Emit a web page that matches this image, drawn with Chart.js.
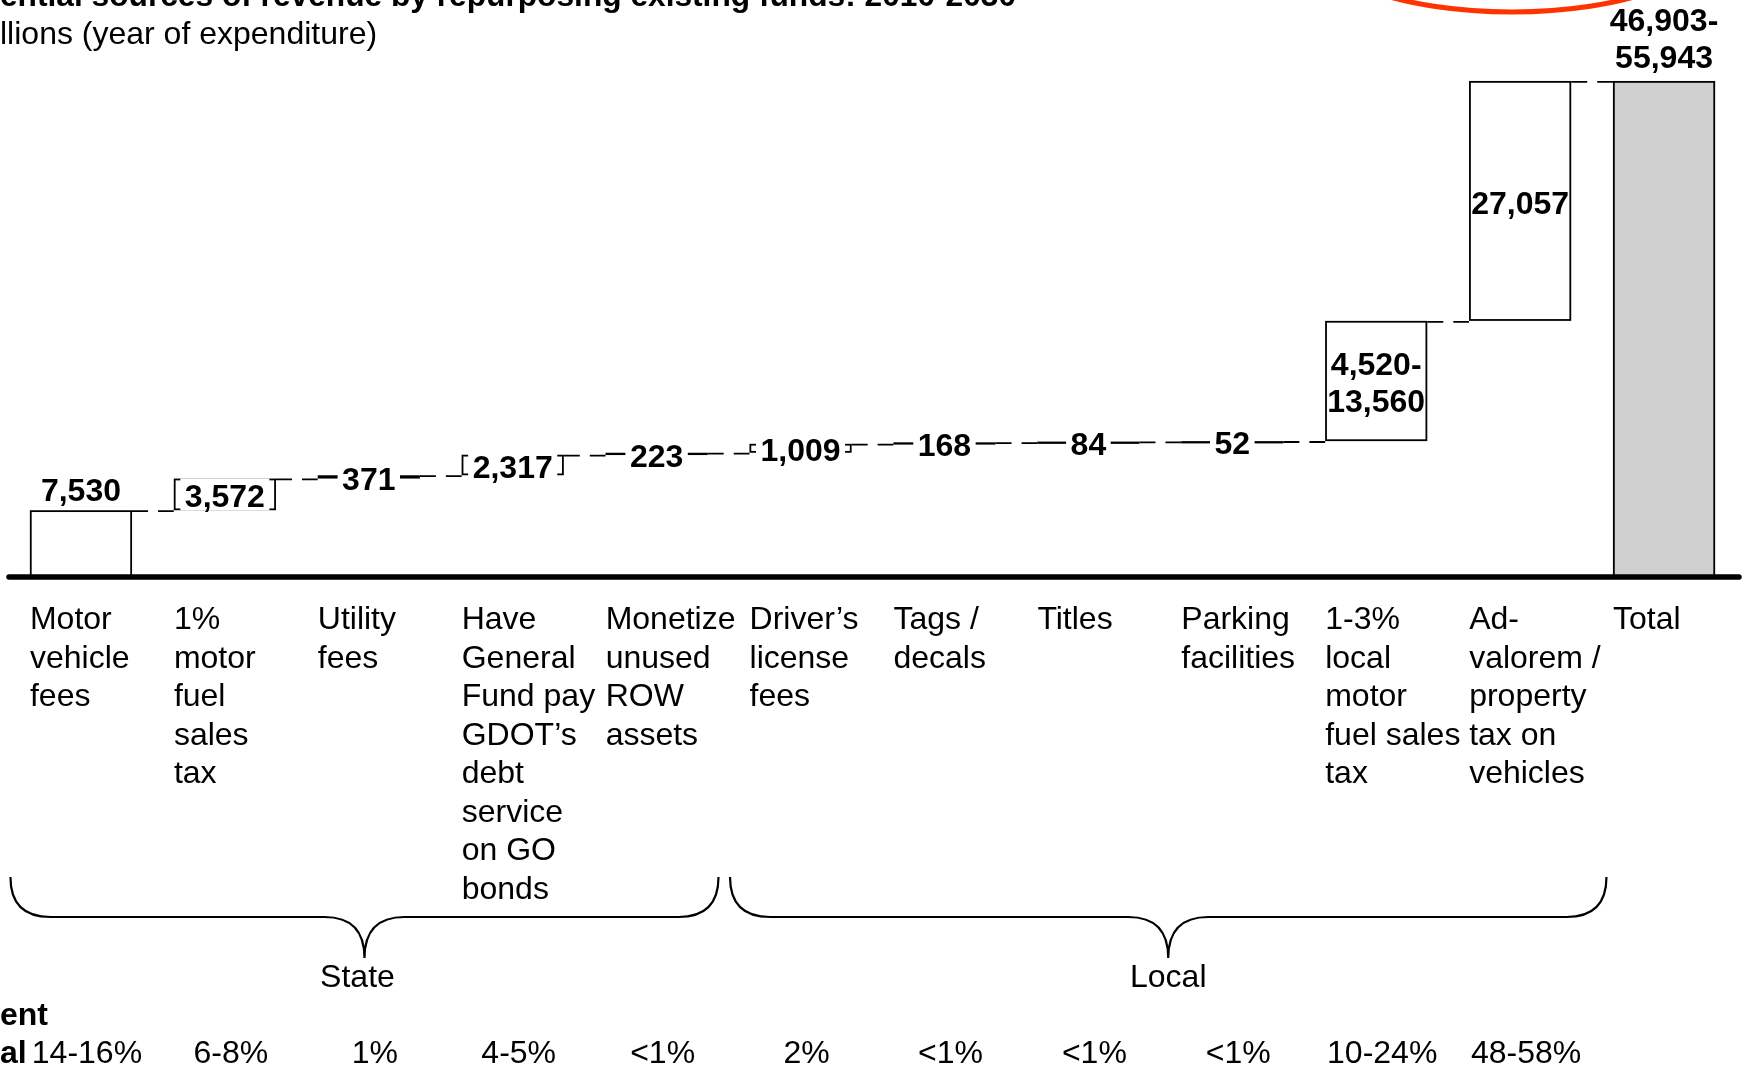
<!DOCTYPE html>
<html>
<head>
<meta charset="utf-8">
<script src="https://cdn.jsdelivr.net/npm/chart.js@4.4.1/dist/chart.umd.min.js"></script>
<style>
  html, body { margin: 0; padding: 0; background: #fff; }
  canvas { display: block; }
</style>
</head>
<body>
<canvas id="chart" width="1746" height="1068"></canvas>
<script>
// --- Data ---
const categories = [
  ['Motor', 'vehicle', 'fees'],
  ['1%', 'motor', 'fuel', 'sales', 'tax'],
  ['Utility', 'fees'],
  ['Have', 'General', 'Fund pay', 'GDOT\u2019s', 'debt', 'service', 'on GO', 'bonds'],
  ['Monetize', 'unused', 'ROW', 'assets'],
  ['Driver\u2019s', 'license', 'fees'],
  ['Tags /', 'decals'],
  ['Titles'],
  ['Parking', 'facilities'],
  ['1-3%', 'local', 'motor', 'fuel sales', 'tax'],
  ['Ad-', 'valorem /', 'property', 'tax on', 'vehicles'],
  ['Total']
];
// $ millions; low and high ends of each estimate (last entry is the total)
const lowValues  = [7530, 3572, 371, 2317, 223, 1009, 168, 84, 52, 4520, 27057, 46903];
const highValues = [7530, 3572, 371, 2317, 223, 1009, 168, 84, 52, 13560, 27057, 55943];
const shareLabels = ['14-16%', '6-8%', '1%', '4-5%', '<1%', '2%', '<1%', '<1%', '<1%', '10-24%', '48-58%'];
const groupLabels = ['State', 'Local'];
const groupFrom = [-0.49, 4.51];
const groupTo = [4.43, 10.6];

const FONT = '"Liberation Sans", Arial, Helvetica, sans-serif';

// --- Build floating bars for the waterfall ---
const lastIdx = highValues.length - 1;
const barData = [];
const ends = [];
let running = 0;
highValues.forEach((v, i) => {
  if (i === lastIdx) {
    barData.push([0, v]);
    ends.push(v);
  } else {
    barData.push([running, running + v]);
    running += v;
    ends.push(running);
  }
});

const fmt = n => n.toLocaleString('en-US');
function valueLines(i) {
  if (lowValues[i] === highValues[i]) return [fmt(highValues[i])];
  return [fmt(lowValues[i]) + '-', fmt(highValues[i])];
}

// --- Plugin: connectors, value labels, axis line, braces, notes ---
const waterfallDecor = {
  id: 'waterfallDecor',
  afterDatasetsDraw(chart) {
    const ctx = chart.ctx;
    const meta = chart.getDatasetMeta(0);
    const y = chart.scales.y;
    ctx.save();
    ctx.strokeStyle = '#000';
    ctx.lineWidth = 1.8;

    // outline every bar (keeps the thin bars visible as heavy lines)
    meta.data.forEach(bar => {
      const top = Math.min(bar.y, bar.base), bottom = Math.max(bar.y, bar.base);
      ctx.strokeRect(bar.x - bar.width / 2 + 0.9, top + 0.9, bar.width - 1.8, Math.max(bottom - top - 1.8, 0.5));
    });

    // connectors between bars
    ctx.setLineDash([16, 10]);
    for (let i = 0; i < meta.data.length - 1; i++) {
      const a = meta.data[i], b = meta.data[i + 1];
      const lvl = y.getPixelForValue(ends[i]) + 0.9;
      ctx.beginPath();
      ctx.moveTo(a.x + a.width / 2, lvl);
      ctx.lineTo(b.x - b.width / 2, lvl);
      ctx.stroke();
    }
    ctx.setLineDash([]);

    // value labels
    ctx.font = 'bold 32px ' + FONT;
    ctx.textAlign = 'center';
    ctx.textBaseline = 'alphabetic';
    const lh = 37, cap = 26;
    meta.data.forEach((bar, i) => {
      const lines = valueLines(i);
      const top = Math.min(bar.y, bar.base), bottom = Math.max(bar.y, bar.base);
      if (i === 0 || i === lastIdx) {
        const gap = lines.length > 1 ? 13 : 9;
        lines.forEach((t, k) => {
          ctx.fillStyle = '#000';
          ctx.fillText(t, bar.x, top - gap - (lines.length - 1 - k) * lh);
        });
        return;
      }
      const mid = (top + bottom) / 2;
      const h = (lines.length - 1) * lh + 32;
      if (bottom - top < h) {
        let w = Math.max(...lines.map(t => ctx.measureText(t).width)) + 9;
        w = Math.min(w, bar.width - 8);
        ctx.fillStyle = '#fff';
        ctx.fillRect(bar.x - w / 2, mid - h / 2, w, h);
      }
      ctx.fillStyle = '#000';
      const first = mid - (lines.length - 1) * lh / 2 + cap / 2;
      lines.forEach((t, k) => ctx.fillText(t, bar.x, first + k * lh));
    });

    // baseline axis
    const area = chart.chartArea;
    const y0 = y.getPixelForValue(0);
    ctx.lineWidth = 5.5;
    ctx.lineCap = 'round';
    ctx.beginPath();
    ctx.moveTo(area.left, y0);
    ctx.lineTo(area.right + 3, y0);
    ctx.stroke();
    ctx.restore();
  },
  afterDraw(chart) {
    const ctx = chart.ctx;
    const x = chart.scales.x;
    ctx.save();
    ctx.fillStyle = '#000';
    ctx.strokeStyle = '#000';

    // title (cropped in the original)
    ctx.textAlign = 'left';
    ctx.textBaseline = 'alphabetic';
    ctx.font = 'bold 31.7px ' + FONT;
    ctx.fillText('ential sources of revenue by repurposing existing funds: 2010-2030', 0, 6);
    ctx.font = '32px ' + FONT;
    ctx.fillText('llions (year of expenditure)', 0, 44);

    // red annotation ellipse
    ctx.strokeStyle = '#ff3300';
    ctx.lineWidth = 5;
    ctx.beginPath();
    ctx.ellipse(1512, -70, 212, 82, 0, 0, Math.PI * 2);
    ctx.stroke();

    // braces for State / Local
    ctx.strokeStyle = '#000';
    ctx.lineWidth = 2.2;
    const yTop = 877, yMid = 917, yTip = 958, r = 40;
    groupLabels.forEach((label, g) => {
      const x0 = x.getPixelForValue(groupFrom[g]);
      const x1 = x.getPixelForValue(groupTo[g]);
      const xm = (x0 + x1) / 2;
      ctx.beginPath();
      ctx.moveTo(x0, yTop);
      ctx.quadraticCurveTo(x0, yMid, x0 + r, yMid);
      ctx.lineTo(xm - r, yMid);
      ctx.quadraticCurveTo(xm, yMid, xm, yTip);
      ctx.quadraticCurveTo(xm, yMid, xm + r, yMid);
      ctx.lineTo(x1 - r, yMid);
      ctx.quadraticCurveTo(x1, yMid, x1, yTop);
      ctx.stroke();
      ctx.font = '32px ' + FONT;
      ctx.textAlign = 'center';
      ctx.fillText(label, xm - (g === 0 ? 7 : 0), 987);
    });

    // percent of total row
    ctx.font = 'bold 32px ' + FONT;
    ctx.textAlign = 'left';
    ctx.fillText('ent', 0, 1025);
    ctx.fillText('al', 0, 1063);
    ctx.font = '32px ' + FONT;
    ctx.textAlign = 'center';
    shareLabels.forEach((t, i) => ctx.fillText(t, x.getPixelForValue(i) + 6, 1063));
    ctx.restore();
  }
};

new Chart(document.getElementById('chart'), {
  type: 'bar',
  data: {
    labels: categories,
    datasets: [{
      data: barData,
      backgroundColor: highValues.map((v, i) => i === lastIdx ? '#d0d0d0' : '#ffffff'),
      borderColor: '#000',
      borderWidth: 0,
      borderSkipped: false,
      categoryPercentage: 1,
      barPercentage: 0.71
    }]
  },
  options: {
    responsive: false,
    animation: false,
    devicePixelRatio: 1,
    layout: { padding: { top: 45, left: 9, right: 10, bottom: 0 } },
    plugins: { legend: { display: false }, tooltip: { enabled: false } },
    scales: {
      x: {
        grid: { display: false, drawTicks: false },
        border: { display: false },
        ticks: {
          color: '#000',
          font: { family: FONT, size: 32, lineHeight: 1.203 },
          align: 'start',
          labelOffset: -51,
          padding: 24,
          autoSkip: false,
          maxRotation: 0
        },
        afterFit: scale => {
          scale.height = 491;
          scale.paddingLeft = 0;
          scale.paddingRight = 0;
        }
      },
      y: { display: false, min: 0, max: 60000 }
    }
  },
  plugins: [waterfallDecor]
});
</script>
</body>
</html>
